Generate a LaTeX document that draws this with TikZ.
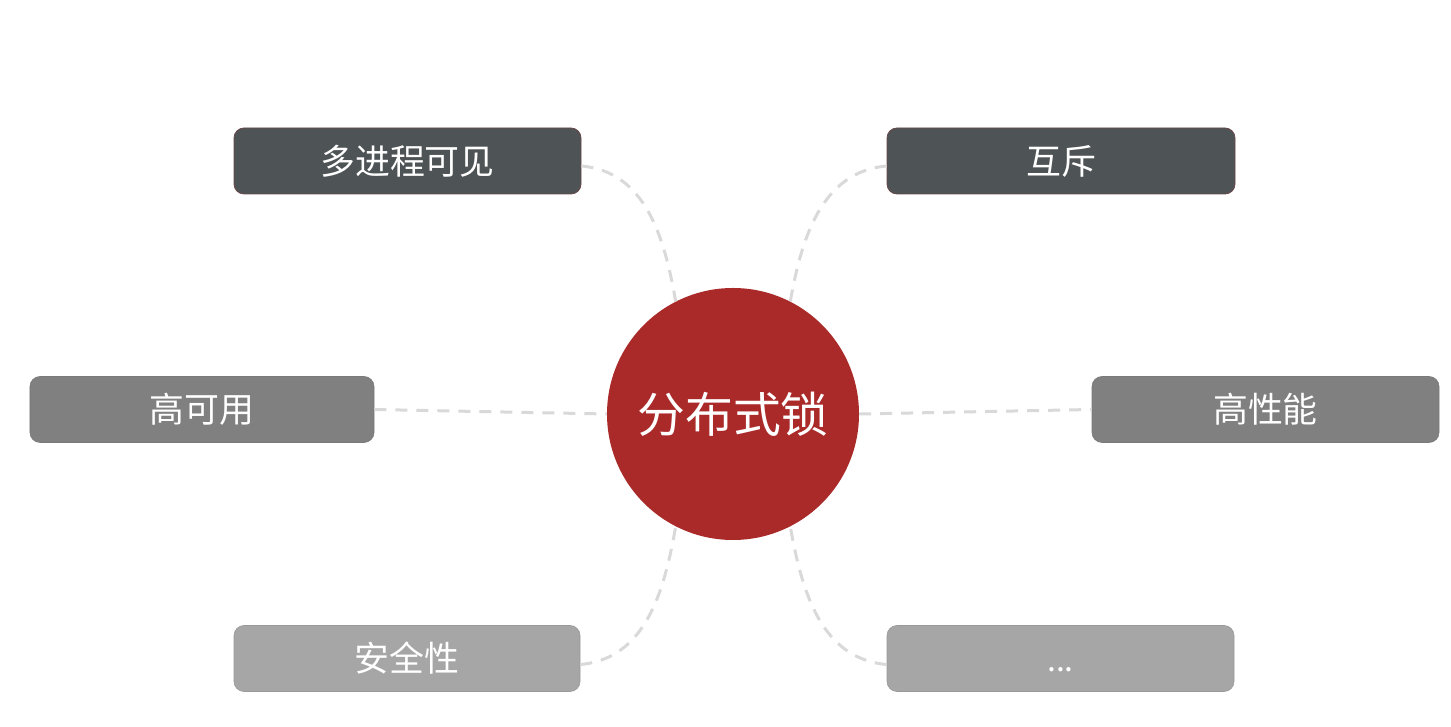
\documentclass[tikz,border=0pt]{standalone}
\usepackage{fontspec}
\setmainfont{Noto Sans CJK SC}
\definecolor{darkfill}{HTML}{4E5355}
\definecolor{midfill}{HTML}{808080}
\definecolor{lightfill}{HTML}{A6A6A6}
\definecolor{redfill}{HTML}{A92A29}
\definecolor{connc}{HTML}{D9D9D9}
\begin{document}
\begin{tikzpicture}[x=1bp,y=1bp,
  boxbase/.style={rectangle, rounded corners=10bp, minimum height=66bp, text=white, font=\fontsize{35}{40}\selectfont, inner sep=0pt},
  darkbox/.style={boxbase, fill=darkfill, draw=darkfill!85!red, line width=0.8bp},
  midbox/.style={boxbase, fill=midfill, draw=midfill!95!black, line width=0.6bp},
  lightbox/.style={boxbase, fill=lightfill, draw=lightfill!92!black, line width=0.6bp},
  hub/.style={circle, fill=redfill, minimum size=252bp, inner sep=0pt, text=white, font=\fontsize{48}{54}\selectfont},
  conn/.style={draw=connc, line width=3bp, dash pattern=on 12bp off 9bp}]
\useasboundingbox (0,0) rectangle (1451,726);
\node[hub] (c) at (733,312) {分布式锁};
\node[darkbox, minimum width=347bp] (a) at (407.5,565) {多进程可见};
\node[darkbox, minimum width=348bp] (b) at (1061,565) {互斥};
\node[midbox, minimum width=344bp] (h) at (202,316.5) {高可用};
\node[midbox, minimum width=347bp] (p) at (1265.5,316.5) {高性能};
\node[lightbox, minimum width=346bp] (s) at (407,67.5) {安全性};
\node[lightbox, minimum width=347bp] (d) at (1060.5,67.5) {\vphantom{安}\fontsize{32}{36}\selectfont...};
\draw[conn] ([yshift=-5bp]a.east) to[out=-5,in=100] (c.117);
\draw[conn] ([yshift=-5bp]b.west) to[out=185,in=80] (c.63);
\draw[conn] (h.east) -- (c.west);
\draw[conn] (c.east) -- (p.west);
\draw[conn] ([yshift=-6bp]s.east) to[out=5,in=-100] (c.243);
\draw[conn] ([yshift=-6bp]d.west) to[out=175,in=-80] (c.297);
\end{tikzpicture}
\end{document}
